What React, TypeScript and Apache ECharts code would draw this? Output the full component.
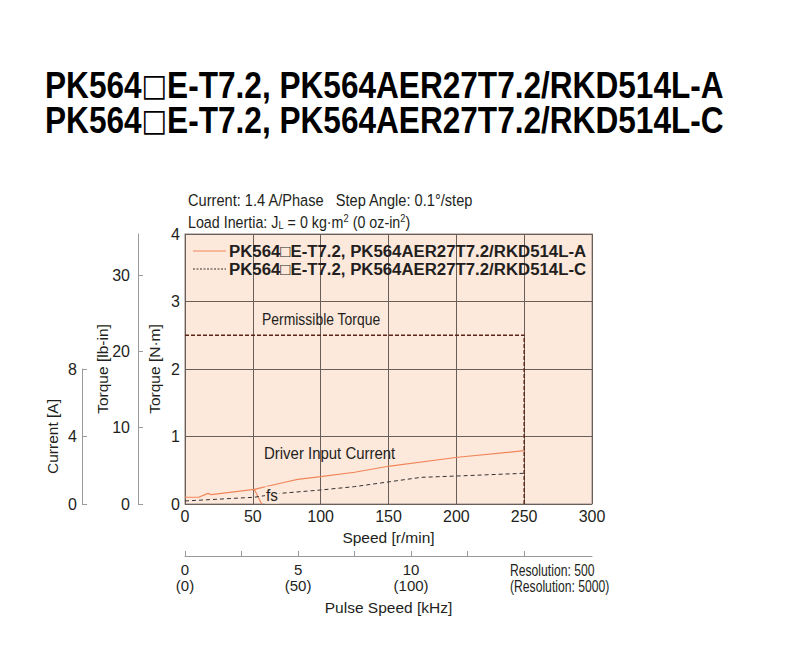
import React, { useEffect, useRef } from "react";
import * as echarts from "echarts";

// ---- data ----
const titleLines = [
  "PK564{b|□}E-T7.2, PK564AER27T7.2/RKD514L-A",
  "PK564{b|□}E-T7.2, PK564AER27T7.2/RKD514L-C",
];
const seriesNames = [
  "PK564□E-T7.2, PK564AER27T7.2/RKD514L-A",
  "PK564□E-T7.2, PK564AER27T7.2/RKD514L-C",
];

const speedTicks = [0, 50, 100, 150, 200, 250, 300];
const torqueNmTicks = [0, 1, 2, 3, 4];
const torqueLbInTicks = [0, 10, 20, 30];
const currentTicks = [0, 4, 8];
const pulseTickValues = [0, 2.5, 5, 7.5, 10, 12.5, 15];
const pulseLabelValues = [0, 5, 10];
const pulseLabels = ["0\n(0)", "5\n(50)", "10\n(100)"];

// Driver input current, -A (A)
const speedA = [0, 10, 17, 19.5, 51, 72, 83, 100, 125, 151, 201, 250];
const currentA = [0.4, 0.4, 0.63, 0.55, 0.87, 1.26, 1.46, 1.62, 1.88, 2.25, 2.77, 3.16];
// Driver input current, -C (A)
const speedC = [0, 51, 70, 100, 125, 151, 174, 201, 250];
const currentC = [0.18, 0.4, 0.63, 0.83, 1.03, 1.32, 1.58, 1.66, 1.82];
// Permissible torque (N·m)
const permSpeed = [0, 250, 250];
const permTorque = [2.5, 2.5, 0];
// fs (starting pulse)
const fsSpeed = [51, 56.5];
const fsTorque = [0.22, 0];

const NM_TO_LBIN = 8.851;

const zip = (xs: number[], ys: number[]) => xs.map((x, i) => [x, ys[i]]);

export default function App() {
  const ref = useRef<HTMLDivElement>(null);
  useEffect(() => {
    document.body.style.margin = "0";
    const chart = echarts.init(ref.current!, null, { renderer: "svg" });
    const ink = "#231f20";
    const axisGray = "#9a9a9a";
    const gridCol = "#6a5e58";
    const orange = "#ef865a";
    const dark = "#333333";
    const sans = "'Liberation Sans', Arial, sans-serif";
    const tickLabel = { color: ink, fontSize: 16, fontFamily: sans };
    const nameStyle = { color: ink, fontSize: 15.5, fontFamily: sans };
    const sideAxisLine = { show: true, onZero: false, lineStyle: { color: axisGray, width: 1 } };
    const sideTick = (vals: number[]) => ({
      show: true, inside: true, length: 5, lineStyle: { color: axisGray }, customValues: vals,
    });
    const plainText = (text: string, x: number, y: number, size: number, sx: number, extra: any = {}) => ({
      type: "text", x, y, scaleX: sx, z: 10,
      style: { text, fill: ink, fontSize: size, fontFamily: sans, textVerticalAlign: "middle", ...extra },
    });

    chart.setOption({
      animation: false,
      backgroundColor: "#ffffff",
      grid: [
        {
          left: 185, top: 234, width: 407, height: 270,
          show: true, backgroundColor: "#fde8dc", borderColor: "#b8aca6", borderWidth: 1.5,
        },
        { left: 185, top: 369, width: 407, height: 135, show: false },
      ],
      xAxis: [
        {
          gridIndex: 0, type: "value", min: 0, max: 300, interval: 50,
          axisLine: { show: false }, axisTick: { show: false },
          axisLabel: { ...tickLabel, margin: 4, customValues: speedTicks },
          splitLine: { show: true, lineStyle: { color: gridCol, width: 1 } },
          name: "Speed [r/min]", nameLocation: "middle", nameGap: 25, nameMoveOverlap: false,
          nameTextStyle: nameStyle,
        },
        {
          gridIndex: 0, type: "value", min: 0, max: 18, position: "bottom", offset: 52,
          axisLine: sideAxisLine,
          axisTick: sideTick(pulseTickValues),
          axisLabel: {
            ...tickLabel, fontSize: 15, lineHeight: 16, margin: 5,
            customValues: pulseLabelValues,
            formatter: (v: number) => pulseLabels[pulseLabelValues.indexOf(v)] ?? "",
          },
          splitLine: { show: false },
          name: "Pulse Speed [kHz]", nameLocation: "middle", nameGap: 43, nameMoveOverlap: false,
          nameTextStyle: nameStyle,
        },
        { gridIndex: 1, type: "value", min: 0, max: 300, show: false },
      ],
      yAxis: [
        {
          gridIndex: 0, type: "value", min: 0, max: 4, interval: 1,
          axisLine: { show: false }, axisTick: { show: false },
          axisLabel: { ...tickLabel, margin: 5, customValues: torqueNmTicks },
          splitLine: { show: true, lineStyle: { color: gridCol, width: 1 } },
          name: "Torque [N·m]", nameLocation: "middle", nameGap: 23, nameRotate: 90, nameMoveOverlap: false,
          nameTextStyle: nameStyle,
        },
        {
          gridIndex: 0, type: "value", min: 0, max: 4 * NM_TO_LBIN, position: "left", offset: 47,
          axisLine: sideAxisLine,
          axisTick: sideTick(torqueLbInTicks),
          axisLabel: { ...tickLabel, margin: 8, customValues: torqueLbInTicks },
          splitLine: { show: false },
          name: "Torque [lb-in]", nameLocation: "middle", nameGap: 28, nameRotate: 90, nameMoveOverlap: false,
          nameTextStyle: nameStyle,
        },
        {
          gridIndex: 1, type: "value", min: 0, max: 8, interval: 4, position: "left", offset: 103,
          axisLine: sideAxisLine,
          axisTick: sideTick(currentTicks),
          axisLabel: { ...tickLabel, margin: 5, customValues: currentTicks },
          splitLine: { show: false },
          name: "Current [A]", nameLocation: "middle", nameGap: 22, nameRotate: 90, nameMoveOverlap: false,
          nameTextStyle: nameStyle,
        },
      ],
      series: [
        {
          name: "Permissible Torque", type: "line", xAxisIndex: 0, yAxisIndex: 0,
          data: zip(permSpeed, permTorque), symbol: "none",
          lineStyle: { color: "#5a2418", width: 1.4, type: [4, 2] },
          z: 3,
        },
        {
          name: "fs", type: "line", xAxisIndex: 0, yAxisIndex: 0,
          data: zip(fsSpeed, fsTorque), symbol: "none",
          lineStyle: { color: orange, width: 1.2 },
        },
        {
          name: seriesNames[0], type: "line", xAxisIndex: 2, yAxisIndex: 2,
          data: zip(speedA, currentA), symbol: "none",
          lineStyle: { color: orange, width: 1.2 },
        },
        {
          name: seriesNames[1], type: "line", xAxisIndex: 2, yAxisIndex: 2,
          data: zip(speedC, currentC), symbol: "none",
          lineStyle: { color: dark, width: 1, type: [4, 3] },
        },
      ],
      graphic: [
        ...titleLines.map((t, i) => ({
          type: "text", x: 45, y: 85 + i * 35, scaleY: 1.17, z: 10,
          style: {
            text: t, fill: "#000", fontSize: 31.6, fontWeight: "bold", fontFamily: sans,
            textVerticalAlign: "middle",
            rich: { b: { fontSize: 27, fontWeight: "normal", fontFamily: "'DejaVu Sans'", fill: "#000" } },
          },
        })),
        // legend
        {
          type: "line", z: 10,
          shape: { x1: 193, y1: 251, x2: 226, y2: 251 },
          style: { stroke: orange, lineWidth: 1.2 },
        },
        {
          type: "line", z: 10,
          shape: { x1: 193, y1: 269, x2: 226, y2: 269 },
          style: { stroke: dark, lineWidth: 1, lineDash: [2, 1.5] },
        },
        ...seriesNames.map((n, i) => ({
          type: "text", x: 229, y: 251 + i * 18, z: 10,
          style: {
            text: n, fill: ink, fontSize: 16.8, fontWeight: "bold", fontFamily: sans,
            textVerticalAlign: "middle",
          },
        })),
        plainText("Current: 1.4 A/Phase   Step Angle: 0.1°/step", 188, 200, 17, 0.86),
        {
          type: "text", x: 188, y: 222, scaleX: 0.84, z: 10,
          style: {
            text: "Load Inertia: J{s|L} = 0 kg·m{p|2} (0 oz-in{p|2})", fill: ink,
            fontSize: 17, fontFamily: sans, textVerticalAlign: "middle",
            rich: {
              s: { fontSize: 11, fontFamily: sans, fill: ink, padding: [6, 0, 0, 0] },
              p: { fontSize: 11, fontFamily: sans, fill: ink, padding: [0, 0, 8, 0] },
            },
          },
        },
        plainText("Permissible Torque", 262, 319, 17, 0.82),
        plainText("Driver Input Current", 264, 453, 17, 0.88),
        plainText("fs", 265, 495, 17, 0.9, { backgroundColor: "#fde8dc", padding: [0, 2, 0, 1] }),
        plainText("Resolution: 500", 510, 570, 16, 0.76),
        plainText("(Resolution: 5000)", 510, 586, 16, 0.76),
      ],
    });
    return () => chart.dispose();
  }, []);
  return <div ref={ref} style={{ width: 800, height: 671 }} />;
}
